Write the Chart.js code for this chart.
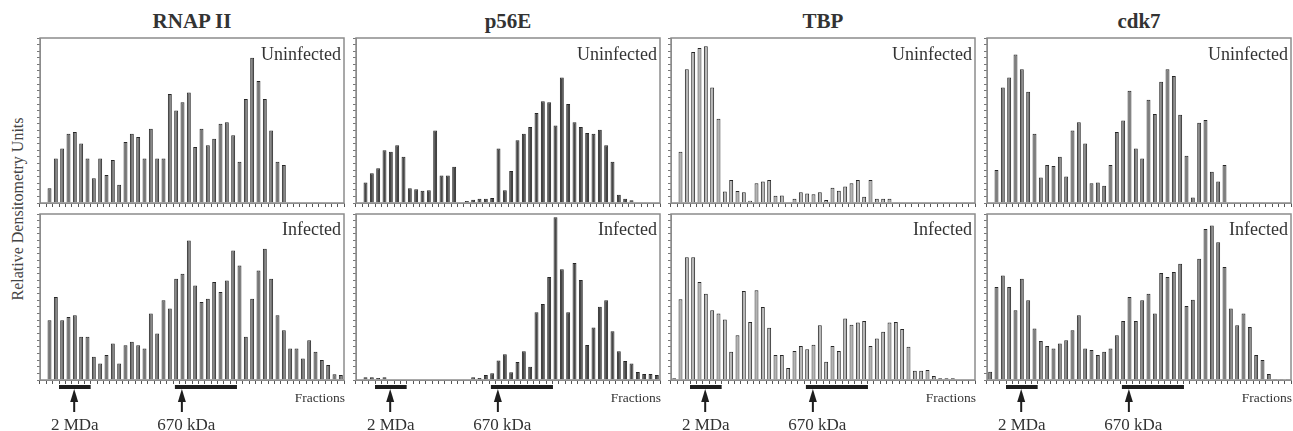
<!DOCTYPE html>
<html>
<head>
<meta charset="utf-8">
<script src="https://cdn.jsdelivr.net/npm/chart.js@4.4.1/dist/chart.umd.min.js"></script>
<style>
  body { margin: 0; width: 1293px; height: 431px; background: #fff; position: relative; overflow: hidden;
         font-family: 'Liberation Serif', 'Times New Roman', serif; color: #333; }
  canvas, .lbl { position: absolute; }
  .lbl { white-space: nowrap; line-height: 1; }
</style>
</head>
<body>
<script>
// fraction numbers along the x axis
const fractions = Array.from({length: 48}, (_, i) => String(i + 1));
const proteins = ['RNAP II', 'p56E', 'TBP', 'cdk7'];
const conditions = ['Uninfected', 'Infected'];

// relative densitometry, 0-100 of panel height, one value per fraction slot
const rnapUninfected = [0, 9, 27, 33, 42, 43, 36, 27, 15, 27, 17, 26, 11, 37, 42, 40, 27, 45, 27, 27, 66, 56, 61, 67, 34, 45, 35, 39, 48, 49, 41, 25, 63, 88, 74, 63, 44, 25, 23, 0, 0, 0, 0, 0, 0, 0, 0, 0];
const rnapInfected = [0, 36, 50, 36, 38, 39, 26, 26, 14, 10, 15, 22, 10, 21, 23, 21, 19, 40, 28, 48, 43, 61, 64, 84, 57, 47, 49, 59, 53, 60, 78, 69, 26, 49, 66, 79, 61, 39, 30, 19, 19, 13, 24, 17, 12, 9, 3.4, 3];
const p56Uninfected = [0, 12.5, 18, 21, 32, 31, 35, 28, 9, 8.3, 7.5, 7.7, 44, 16.6, 16.6, 22, 0, 1.2, 2, 2.6, 2.6, 3, 33, 7.7, 19.4, 38, 42, 46, 54.5, 61.6, 61, 47, 76, 60, 49, 46, 42.4, 42, 44.4, 35, 25, 5, 2.6, 1.6, 0, 0, 0, 0];
const p56Infected = [0, 1.6, 1.6, 1.2, 1.6, 0, 0, 0, 0, 0, 0, 0, 0, 0, 0, 0, 0, 0, 1.6, 1.2, 3, 4, 11.8, 15.5, 4.6, 10.8, 17.3, 8, 40.8, 45.8, 62, 98, 66.7, 40.8, 70.5, 60.2, 21.1, 31.7, 44.2, 48, 29.3, 17.3, 11.4, 10, 4.8, 3.6, 3.6, 3];
const tbpUninfected = [0, 31, 81, 91.5, 94, 95, 70, 51, 7, 14, 7.3, 6.5, 1.4, 12, 13, 14, 4.4, 4.6, 0, 2.6, 6.5, 5.7, 5.3, 6.5, 1.8, 9.3, 7.5, 10, 12, 14, 3.8, 14, 2.6, 2.6, 2.6, 0, 0, 0, 0, 0, 0, 0, 0, 0, 0, 0, 0, 0];
const tbpInfected = [1, 48.6, 74, 74, 59, 52, 42, 40, 36.5, 17, 27, 53.6, 35, 54, 44, 31.5, 15, 15, 7.2, 17.5, 20.5, 18.5, 21.3, 33, 11, 20.5, 17.5, 37, 33.3, 34.7, 35.5, 20.5, 25, 29, 34.7, 35, 30.7, 20, 5.6, 5.6, 6, 2.4, 1, 1, 1, 0, 0, 0];
const cdkUninfected = [0, 20, 70, 76, 90, 81, 67.5, 42, 15.4, 23, 22.4, 28, 16, 44, 49, 36, 12, 12.5, 10.5, 23, 43, 50, 68, 33, 27, 62.6, 54, 73.5, 81, 77, 53.5, 28.7, 3.4, 48.7, 50.3, 19, 13, 23, 0, 0, 0, 0, 0, 0, 0, 0, 0, 0];
const cdkInfected = [5, 56, 63, 56, 42, 61, 48, 31, 23.5, 20.5, 19, 22, 24, 30, 39, 19, 18, 15, 17, 19, 27, 35.5, 50, 35.5, 48, 52, 40, 64.5, 62, 65, 70, 44.6, 48.4, 73, 91, 93, 83, 68, 43, 33, 40, 32, 15, 12, 3.6, 0.6, 0.6, 0.6];

// size standards (positions in fraction slots)
const markerLabels = ['2 MDa', '670 kDa'];
const markerBands = [[3, 8], [21.3, 31.1]];
const markerArrows = [5.4, 22.4];
const markerTextPos = [5.5, 23.1];

const series = [[rnapUninfected, rnapInfected], [p56Uninfected, p56Infected],
                [tbpUninfected, tbpInfected], [cdkUninfected, cdkInfected]];
const fills = ['#767676', '#464646', '#b4b4b4', '#7e7e7e'];

const colLeft = [40, 356, 671, 987];
const panelW = 304;
const slotW = panelW / fractions.length;
const rowTop = [38, 214];
const rowH = [165, 166];
const bottomEdge = 416;

const framePlugin = {
  id: 'frame',
  afterDraw(chart) {
    const {ctx, chartArea: a} = chart;
    ctx.save();
    ctx.strokeStyle = '#8c8c8c';
    ctx.lineWidth = 1.5;
    ctx.strokeRect(a.left, a.top, a.right - a.left, a.bottom - a.top);
    ctx.restore();
  }
};

const markerPlugin = {
  id: 'markers',
  afterDraw(chart) {
    const x = chart.scales.x, ctx = chart.ctx, y0 = chart.chartArea.bottom + 5;
    ctx.save();
    ctx.fillStyle = '#1e1e1e';
    markerBands.forEach(([a, b]) => {
      const x1 = x.getPixelForValue(a - 0.5), x2 = x.getPixelForValue(b - 0.5);
      ctx.fillRect(x1, y0, x2 - x1, 4);
    });
    markerArrows.forEach(p => {
      const cx = x.getPixelForValue(p - 0.5);
      ctx.beginPath();
      ctx.moveTo(cx, y0 + 4);
      ctx.lineTo(cx - 4, y0 + 17);
      ctx.lineTo(cx + 4, y0 + 17);
      ctx.closePath();
      ctx.fill();
      ctx.fillRect(cx - 1, y0 + 15, 2, 12);
    });
    ctx.restore();
  }
};

function addLabel(text, css) {
  const d = document.createElement('div');
  d.className = 'lbl';
  d.textContent = text;
  Object.assign(d.style, css);
  document.body.appendChild(d);
}

proteins.forEach((name, c) => {
  const L = colLeft[c];
  addLabel(name, {left: (L + panelW / 2) + 'px', top: '11px', transform: 'translateX(-50%)',
                  fontWeight: 'bold', fontSize: '21px'});

  conditions.forEach((cond, r) => {
    const T = rowTop[r], H = rowH[r];
    const ct = T - 3;
    const ch = r === 0 ? H + 10 : bottomEdge - ct;
    const cw = panelW + 9;
    const cv = document.createElement('canvas');
    cv.width = cw; cv.height = ch;
    Object.assign(cv.style, {left: (L - 6) + 'px', top: ct + 'px', width: cw + 'px', height: ch + 'px'});
    document.body.appendChild(cv);

    new Chart(cv, {
      type: 'bar',
      data: {
        labels: fractions,
        datasets: [{
          data: series[c][r],
          backgroundColor: fills[c],
          borderColor: '#262626',
          borderWidth: 1,
          barPercentage: 0.62,
          categoryPercentage: 1
        }]
      },
      options: {
        responsive: false,
        animation: false,
        devicePixelRatio: 1,
        layout: { padding: { left: 3, top: 3, right: 3, bottom: ch - 7 - H } },
        plugins: { legend: { display: false }, tooltip: { enabled: false } },
        scales: {
          x: {
            grid: { drawOnChartArea: false, tickLength: 4, color: '#555', offset: true },
            border: { color: '#8c8c8c' },
            ticks: { display: false }
          },
          y: {
            min: 0, max: 100,
            ticks: { display: false, stepSize: 4 },
            grid: { drawOnChartArea: false, tickLength: 3, color: '#777' },
            border: { color: '#8c8c8c' }
          }
        }
      },
      plugins: r === 1 ? [framePlugin, markerPlugin] : [framePlugin]
    });

    addLabel(cond, {right: (1293 - (L + panelW - 3)) + 'px', top: (r === 0 ? 45 : 220) + 'px', fontSize: '18px'});
  });

  markerLabels.forEach((m, i) => {
    addLabel(m, {left: (L + markerTextPos[i] * slotW) + 'px', top: '416px', transform: 'translateX(-50%)', fontSize: '17px'});
  });
  addLabel('Fractions', {right: (1293 - (L + panelW + 1)) + 'px', top: '391px', fontSize: '13.5px'});
});

addLabel('Relative Densitometry Units', {left: '18px', top: '209px', transform: 'translate(-50%, -50%) rotate(-90deg)',
                                         fontSize: '16px', color: '#444'});
</script>
</body>
</html>
